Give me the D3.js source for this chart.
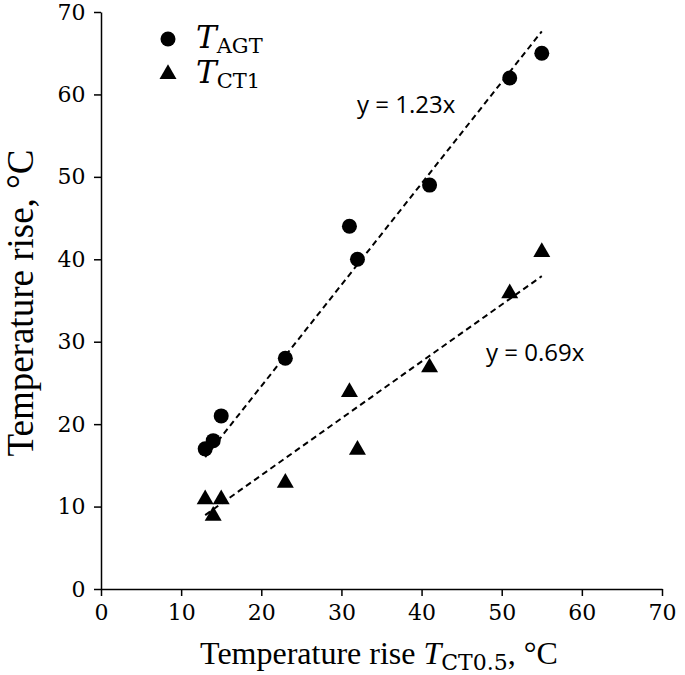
<!DOCTYPE html>
<html><head><meta charset="utf-8">
<script src="https://cdn.jsdelivr.net/npm/d3@7"></script>
<style>body{margin:0;background:#fff}</style>
</head><body>
<script>
const xVals = [13, 14, 15, 23, 31, 32, 41, 51, 55];
const agtVals = [17, 18, 21, 28, 44, 40, 49, 62, 65];
const ct1Vals = [11, 9, 11, 13, 24, 17, 27, 36, 41];
const slopes = [1.23, 0.69];
const ticks = [0, 10, 20, 30, 40, 50, 60, 70];

const W = 685, H = 675;
const svg = d3.select("body").append("svg").attr("width", W).attr("height", H);
const x = d3.scaleLinear().domain([0, 70]).range([101, 662]);
const y = d3.scaleLinear().domain([0, 70]).range([589, 12]);

const tickFont = "'DejaVu Serif', serif";
const xAxis = svg.append("g").attr("transform", `translate(0,${y(0)})`)
  .call(d3.axisBottom(x).tickValues(ticks).tickSize(7).tickSizeOuter(0));
const yAxis = svg.append("g").attr("transform", `translate(${x(0)},0)`)
  .call(d3.axisLeft(y).tickValues(ticks).tickSize(7).tickSizeOuter(0));
[xAxis, yAxis].forEach(g => {
  g.select(".domain").attr("stroke", "#000").attr("stroke-width", 1.5);
  g.selectAll(".tick line").attr("stroke", "#000").attr("stroke-width", 1.5);
  g.selectAll(".tick text").attr("font-family", tickFont).attr("font-size", 22).attr("fill", "#000");
});
xAxis.selectAll(".tick text").attr("dy", "0.95em");
yAxis.selectAll(".tick text").attr("dx", "-0.25em");

// trend lines
const xmin = d3.min(xVals), xmax = d3.max(xVals);
slopes.forEach(s => {
  svg.append("line").attr("x1", x(xmin)).attr("y1", y(s * xmin))
    .attr("x2", x(xmax)).attr("y2", y(s * xmax))
    .attr("stroke", "#000").attr("stroke-width", 2).attr("stroke-dasharray", "6,4");
});

// points
svg.append("g").selectAll("circle").data(xVals).join("circle")
  .attr("cx", d => x(d)).attr("cy", (d, i) => y(agtVals[i])).attr("r", 7.5).attr("fill", "#000");
const tri = d3.symbol().type(d3.symbolTriangle).size(125);
svg.append("g").selectAll("path").data(xVals).join("path")
  .attr("d", tri).attr("fill", "#000")
  .attr("transform", (d, i) => `translate(${x(d)},${y(ct1Vals[i]) + 1})`);

// equation labels
const eqFont = "'Open Sans', Lato, sans-serif";
svg.append("text").attr("x", 357).attr("y", 113).attr("font-family", eqFont).attr("font-size", 24).text("y = 1.23x");
svg.append("text").attr("x", 486).attr("y", 361).attr("font-family", eqFont).attr("font-size", 24).text("y = 0.69x");

// legend
svg.append("circle").attr("cx", 168).attr("cy", 39).attr("r", 7.5).attr("fill", "#000");
svg.append("path").attr("d", tri).attr("transform", "translate(168,74)").attr("fill", "#000");
const legFont = "'DejaVu Serif', serif";
const l1 = svg.append("text").attr("x", 196).attr("y", 48).attr("font-family", legFont).attr("font-size", 31);
l1.append("tspan").attr("font-style", "italic").text("T");
l1.append("tspan").attr("font-size", 21).attr("dy", 5).text("AGT");
const l2 = svg.append("text").attr("x", 196).attr("y", 83).attr("font-family", legFont).attr("font-size", 31);
l2.append("tspan").attr("font-style", "italic").text("T");
l2.append("tspan").attr("font-size", 21).attr("dy", 5).text("CT1");

// axis titles
const tf = "'Liberation Serif', 'Times New Roman', serif";
const xt = svg.append("text").attr("x", 379).attr("y", 664).attr("text-anchor", "middle")
  .attr("font-family", tf).attr("font-size", 32);
xt.append("tspan").text("Temperature rise ");
xt.append("tspan").attr("font-style", "italic").text("T");
xt.append("tspan").attr("font-size", 22).attr("dy", 6).attr("font-family", "'DejaVu Serif', serif").text("CT0.5");
xt.append("tspan").attr("dy", -6).text(", °C");

svg.append("text").attr("transform", "translate(33,303) rotate(-90)").attr("text-anchor", "middle")
  .attr("font-family", tf).attr("font-size", 37).text("Temperature rise, °C");
</script>
</body></html>
